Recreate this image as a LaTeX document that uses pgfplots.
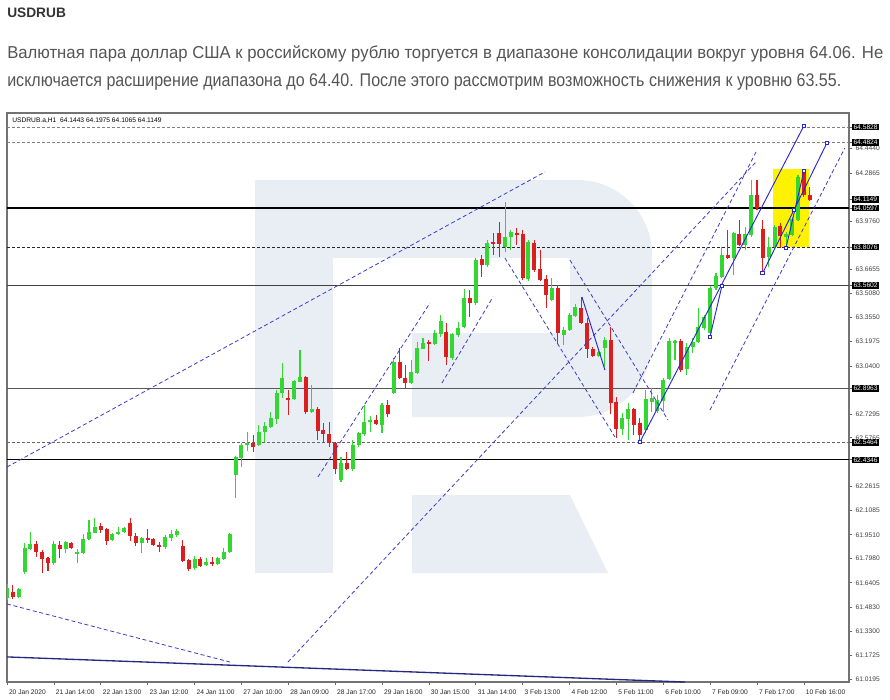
\documentclass[border=0pt]{standalone}
\usepackage{pgfplots}
\pgfplotsset{compat=1.18}
\usepackage{pgfplotstable}
\usepackage{graphicx}
\usepackage{fontspec}
\setmainfont{Liberation Sans}
\newfontfamily\parafont{Liberation Sans}
\definecolor{cgreen}{RGB}{50,215,50}
\definecolor{cred}{RGB}{220,30,30}
\definecolor{tline}{RGB}{60,60,200}
\definecolor{sline}{RGB}{40,40,210}
\definecolor{navy}{RGB}{40,40,130}
\definecolor{wm}{RGB}{233,238,245}
\definecolor{txtgray}{RGB}{85,85,85}
\tikzset{numfmt/.style={/pgf/number format/fixed, /pgf/number format/fixed zerofill, /pgf/number format/precision=4, /pgf/number format/assume math mode=true}}

\pgfplotstableread{
i O H L C
0 61.543 61.633 61.530 61.607
2 61.549 61.607 61.543 61.600
3 61.710 61.898 61.697 61.865
4 61.859 61.968 61.852 61.891
8 61.768 61.910 61.755 61.891
10 61.859 61.910 61.833 61.904
12 61.833 61.859 61.768 61.839
13 61.833 61.955 61.830 61.923
14 61.923 62.046 61.917 61.968
15 61.962 62.059 61.960 62.001
18 61.917 61.962 61.910 61.955
19 61.955 62.001 61.949 61.968
20 61.968 62.001 61.962 61.994
23 61.898 61.936 61.833 61.930
27 61.872 61.949 61.859 61.936
28 61.930 61.981 61.910 61.955
29 61.949 61.988 61.936 61.975
32 61.736 61.813 61.723 61.794
34 61.755 61.801 61.749 61.775
36 61.762 61.807 61.755 61.801
37 61.794 61.865 61.788 61.839
38 61.839 61.962 61.833 61.955
39 62.337 62.459 62.188 62.453
40 62.446 62.543 62.388 62.530
41 62.530 62.614 62.491 62.543
43 62.530 62.660 62.524 62.614
44 62.614 62.679 62.550 62.653
45 62.647 62.743 62.640 62.705
46 62.698 62.885 62.666 62.866
47 62.866 63.060 62.834 62.963
49 62.827 62.950 62.821 62.943
50 62.937 63.144 62.937 62.969
52 62.743 62.917 62.737 62.763
57 62.304 62.453 62.291 62.414
59 62.375 62.563 62.362 62.530
60 62.530 62.614 62.517 62.608
61 62.601 62.789 62.588 62.679
62 62.679 62.718 62.614 62.692
64 62.660 62.801 62.608 62.789
66 62.866 63.092 62.859 63.066
69 62.930 63.079 62.924 63.001
70 62.995 63.195 62.988 63.156
71 63.150 63.221 63.147 63.189
73 63.182 63.273 63.176 63.253
74 63.247 63.370 63.228 63.331
76 63.092 63.253 63.079 63.247
77 63.240 63.324 63.228 63.285
78 63.292 63.537 63.285 63.479
80 63.447 63.738 63.434 63.725
82 63.692 63.854 63.679 63.834
85 63.808 64.099 63.776 63.873
86 63.873 63.918 63.789 63.905
89 63.602 63.854 63.589 63.841
93 63.466 63.608 63.460 63.544
95 63.240 63.292 63.176 63.273
96 63.273 63.383 63.266 63.370
97 63.363 63.440 63.357 63.421
101 63.105 63.137 63.098 63.131
102 63.156 63.228 63.034 63.208
105 62.634 62.737 62.595 62.705
106 62.698 62.801 62.563 62.763
109 62.627 62.885 62.608 62.827
110 62.808 62.898 62.743 62.834
111 62.750 62.853 62.737 62.821
112 62.814 62.963 62.743 62.950
113 62.956 63.221 62.950 63.202
114 63.195 63.208 63.079 63.202
116 63.021 63.189 62.982 63.163
117 63.163 63.221 63.124 63.195
118 63.195 63.415 63.189 63.292
119 63.285 63.370 63.273 63.357
120 63.253 63.557 63.228 63.544
121 63.544 63.640 63.531 63.621
122 63.615 63.808 63.608 63.757
124 63.738 63.905 63.627 63.899
126 63.821 63.937 63.789 63.892
127 63.886 64.241 63.873 64.144
130 63.744 63.873 63.679 63.808
131 63.808 63.950 63.789 63.937
133 63.873 63.905 63.802 63.892
134 63.886 64.002 63.880 63.989
135 63.983 64.273 63.976 64.260
}\greentab

\pgfplotstableread{
i O H L C
1 61.581 61.627 61.536 61.549
5 61.891 61.910 61.807 61.839
6 61.839 61.852 61.704 61.794
7 61.801 61.807 61.717 61.768
9 61.885 61.910 61.801 61.859
11 61.898 61.904 61.859 61.865
16 62.007 62.027 61.962 61.981
17 61.988 61.994 61.885 61.910
21 62.027 62.059 61.910 61.942
22 61.942 61.962 61.878 61.898
24 61.930 61.988 61.898 61.923
25 61.923 61.930 61.878 61.885
26 61.885 61.904 61.839 61.872
30 61.878 61.917 61.775 61.781
31 61.788 61.794 61.717 61.730
33 61.794 61.807 61.742 61.749
35 61.775 61.807 61.749 61.768
42 62.543 62.595 62.485 62.517
48 62.834 62.885 62.724 62.827
51 62.969 62.975 62.730 62.743
53 62.763 62.776 62.563 62.621
54 62.627 62.672 62.543 62.601
55 62.601 62.679 62.517 62.543
56 62.543 62.550 62.343 62.375
58 62.414 62.485 62.369 62.375
63 62.692 62.724 62.660 62.666
65 62.789 62.821 62.711 62.730
67 63.066 63.156 62.956 62.963
68 62.963 63.047 62.898 62.930
72 63.195 63.208 63.073 63.182
75 63.260 63.318 63.047 63.098
79 63.479 63.531 63.357 63.447
81 63.731 63.757 63.615 63.692
83 63.841 63.899 63.757 63.828
84 63.899 63.970 63.744 63.828
87 63.899 63.931 63.821 63.886
88 63.892 63.918 63.595 63.608
90 63.834 63.854 63.647 63.660
91 63.666 63.789 63.589 63.595
92 63.602 63.627 63.415 63.498
94 63.544 63.563 63.182 63.253
98 63.415 63.485 63.315 63.318
99 63.318 63.350 63.092 63.150
100 63.150 63.163 63.098 63.105
103 63.208 63.292 62.730 62.801
104 62.808 62.840 62.575 62.634
107 62.763 62.769 62.595 62.660
108 62.672 62.705 62.546 62.595
115 63.202 63.215 63.001 63.014
123 63.757 63.918 63.731 63.738
125 63.892 63.983 63.815 63.821
128 64.144 64.241 64.047 64.060
129 63.924 63.983 63.647 63.738
132 63.944 63.963 63.802 63.880
136 64.286 64.312 64.131 64.144
137 64.1443 64.1975 64.1065 64.1149
}\redtab

\begin{document}
\begin{tikzpicture}
\begin{scope}[x=0.75pt,y=-0.75pt]
\useasboundingbox (0,0) rectangle (890,700);
\fill[white] (0,0) rectangle (890,700);
% header text
\node[anchor=base west, inner sep=0pt, text=black!80] at (7,17) {\resizebox{44pt}{!}{\bfseries USDRUB}};
\node[anchor=base west, inner sep=0pt, text=txtgray] at (7,58) {\resizebox{657pt}{9.6pt}{\parafont\fontsize{12.5pt}{14pt}\selectfont Валютная пара доллар США к российскому рублю торгуется в диапазоне консолидации вокруг уровня 64.06. Не}};
\node[anchor=base west, inner sep=0pt, text=txtgray] at (7,86) {\resizebox{625.5pt}{9.6pt}{\parafont\fontsize{12.5pt}{14pt}\selectfont исключается расширение диапазона до 64.40. После этого рассмотрим возможность снижения к уровню 63.55.}};
% watermark R
\begin{scope}
\clip (333,170) rectangle (700,430);
\fill[wm, rounded corners=56pt] (200,180) rectangle (652,417);
\end{scope}
\fill[white] (333,258) rectangle (570,333);
\fill[white] (333,333) rectangle (412,417);
\fill[wm] (255,180) rectangle (333,573);
\fill[wm] (412,495) -- (570,495) -- (608,573) -- (412,573) -- cycle;
\end{scope}

\begin{axis}[
  at={(5.25pt,-511.5pt)}, anchor=south west,
  scale only axis, width=631.5pt, height=426.75pt,
  xmin=0, xmax=143.7, ymin=61.0001, ymax=64.6735,
  axis line style={draw=black!55, line width=0.8pt},
  xtick={0,8,...,136},
  xticklabels={20 Jan 2020,21 Jan 14:00,22 Jan 13:00,23 Jan 12:00,24 Jan 11:00,27 Jan 10:00,28 Jan 09:00,28 Jan 17:00,29 Jan 16:00,30 Jan 15:00,31 Jan 14:00,3 Feb 13:00,4 Feb 12:00,5 Feb 11:00,6 Feb 10:00,7 Feb 09:00,7 Feb 17:00,10 Feb 16:00},
  xtick pos=left, ytick pos=right, tick align=outside,
  major tick length=2.5pt,
  tick style={black!60, line width=0.5pt},
  xticklabel style={anchor=north west, xshift=-2pt, font=\fontsize{5pt}{6pt}\selectfont, text=black!85},
  ytick={61.0195,61.1725,61.3300,61.4830,61.6405,61.7980,61.9510,62.1085,62.2615,62.5765,62.7295,63.0400,63.1975,63.3550,63.5080,63.6655,63.9760,64.2865,64.4440},
  yticklabel pos=right,
  yticklabel style={anchor=west, xshift=-1pt, font=\fontsize{5pt}{6pt}\selectfont, text=black!75, numfmt},
  extra y ticks={64.5828,64.4824,64.1149,64.0597,63.8076,63.5602,62.8963,62.5464,62.4346},
  extra y tick style={yticklabel style={fill=black, text=white, inner xsep=1.2pt, inner ysep=0.7pt, xshift=0.5pt, font=\fontsize{5pt}{6pt}\selectfont, numfmt}},
  clip=true,
]
% yellow box
\fill[yellow] (axis cs:130.72,64.312) rectangle (axis cs:136.86,63.808);
% level lines
\draw[black!50, dash pattern=on 2.25pt off 1.5pt, line width=0.6pt] (axis cs:0,64.5828) -- (axis cs:143.7,64.5828);
\draw[black!50, dash pattern=on 2.25pt off 1.5pt, line width=0.6pt] (axis cs:0,64.4824) -- (axis cs:143.7,64.4824);
\draw[black, line width=1.7pt] (axis cs:0,64.0597) -- (axis cs:143.7,64.0597);
\draw[black!85, dash pattern=on 2.25pt off 1.5pt, line width=0.7pt] (axis cs:0,63.8076) -- (axis cs:143.7,63.8076);
\draw[black!75, line width=0.8pt] (axis cs:0,63.5602) -- (axis cs:143.7,63.5602);
\draw[black!65, line width=0.8pt] (axis cs:0,62.8963) -- (axis cs:143.7,62.8963);
\draw[black!60, dash pattern=on 2.25pt off 1.5pt, line width=0.7pt] (axis cs:0,62.5464) -- (axis cs:143.7,62.5464);
\draw[black, line width=0.9pt] (axis cs:0,62.4346) -- (axis cs:143.7,62.4346);
% candles: wicks
\addplot[draw=none, mark=none, forget plot, error bars/.cd, y dir=both, y explicit, error mark=none, error bar style={line width=0.8pt, cgreen}] table[x=i, y expr=(\thisrow{H}+\thisrow{L})/2, y error expr=(\thisrow{H}-\thisrow{L})/2] {\greentab};
\addplot[draw=none, mark=none, forget plot, error bars/.cd, y dir=both, y explicit, error mark=none, error bar style={line width=0.8pt, cred}] table[x=i, y expr=(\thisrow{H}+\thisrow{L})/2, y error expr=(\thisrow{H}-\thisrow{L})/2] {\redtab};
% candles: bodies
\addplot[draw=none, mark=none, forget plot, error bars/.cd, y dir=both, y explicit, error mark=none, error bar style={line width=3pt, cgreen}] table[x=i, y expr=(\thisrow{O}+\thisrow{C})/2, y error expr={max(abs(\thisrow{C}-\thisrow{O})/2,0.004)}] {\greentab};
\addplot[draw=none, mark=none, forget plot, error bars/.cd, y dir=both, y explicit, error mark=none, error bar style={line width=3pt, cred}] table[x=i, y expr=(\thisrow{O}+\thisrow{C})/2, y error expr={max(abs(\thisrow{C}-\thisrow{O})/2,0.004)}] {\redtab};
% dashed trend lines
\addplot[tline, densely dashed, line width=0.6pt, forget plot] coordinates {(0,62.388) (91.8,64.293)};
\addplot[tline, densely dashed, line width=0.6pt, forget plot] coordinates {(0,61.504) (38.05,61.129)};
\addplot[tline, densely dashed, line width=0.6pt, forget plot] coordinates {(47.95,61.129) (127.99,64.364)};
\addplot[tline, densely dashed, line width=0.6pt, forget plot] coordinates {(53.07,62.324) (72.18,63.447)};
\addplot[tline, densely dashed, line width=0.6pt, forget plot] coordinates {(74.23,62.930) (82.94,63.486)};
\addplot[tline, densely dashed, line width=0.6pt, forget plot] coordinates {(84.98,63.737) (103.75,62.582)};
\addplot[tline, densely dashed, line width=0.6pt, forget plot] coordinates {(96.08,63.724) (112.80,62.692)};
\addplot[tline, densely dashed, line width=0.6pt, forget plot] coordinates {(119.97,62.756) (143.0,64.448)};
\addplot[tline, densely dashed, line width=0.6pt, forget plot] coordinates {(106.83,62.866) (128.01,64.435)};
% solid pen lines
\addplot[navy, line width=1pt, forget plot] coordinates {(0,61.162) (115.7,61.000)};
\addplot[sline, line width=0.7pt, forget plot] coordinates {(98.12,63.486) (102.05,63.014)};
\addplot[sline, line width=0.7pt, mark=square*, mark size=1.3pt, mark options={fill=white, draw=sline}, forget plot] coordinates {(108.02,62.549) (135.99,64.590)};
\addplot[sline, line width=0.7pt, mark=square*, mark size=1.3pt, mark options={fill=white, draw=sline}, forget plot] coordinates {(119.97,63.227) (122.01,63.557)};
\addplot[sline, line width=0.7pt, mark=square*, mark size=1.3pt, mark options={fill=white, draw=sline}, forget plot] coordinates {(128.96,63.640) (134.30,64.047) (139.93,64.480)};
\addplot[sline, line width=0.7pt, mark=square*, mark size=1.3pt, mark options={fill=white, draw=sline}, forget plot] coordinates {(132.94,63.802) (136.01,64.300)};
% chart caption
\node[anchor=west, inner sep=0pt, font=\fontsize{5pt}{6pt}\selectfont] at (rel axis cs:0.006,0.987) {USDRUB.a,H1\ \ 64.1443 64.1975 64.1065 64.1149};
\end{axis}
\end{tikzpicture}
\end{document}
